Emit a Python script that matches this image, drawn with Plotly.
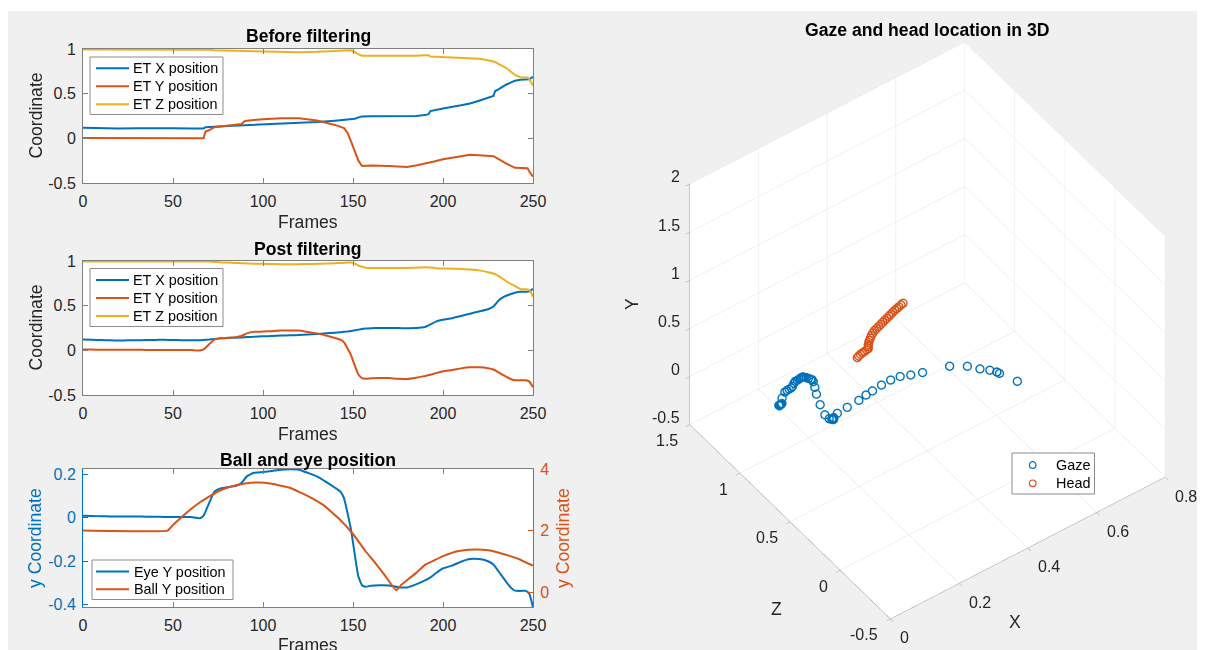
import plotly.graph_objects as go

# ---------------- data ----------------
frames_raw = [0, 10, 20, 30, 40, 50, 60, 67, 68, 70, 73, 80, 86, 88, 90, 92, 100, 110, 115, 120,
              130, 140, 145, 147, 149, 151, 153, 155, 160, 170, 180, 185, 190, 192, 193, 195,
              200, 210, 215, 220, 225, 228, 229, 231, 235, 240, 243, 247, 248, 250]
raw_x = [0.118, 0.113, 0.110, 0.112, 0.115, 0.113, 0.110, 0.110, 0.125, 0.130, 0.130, 0.138, 0.143,
         0.145, 0.148, 0.150, 0.158, 0.164, 0.167, 0.172, 0.182, 0.198, 0.208, 0.212, 0.215, 0.220,
         0.235, 0.245, 0.248, 0.248, 0.245, 0.250, 0.260, 0.270, 0.305, 0.315, 0.335, 0.370, 0.390,
         0.420, 0.455, 0.475, 0.530, 0.550, 0.600, 0.645, 0.655, 0.655, 0.660, 0.690]
raw_y = [0.005, 0.005, 0.004, 0.003, 0.003, 0.002, 0.002, 0.002, 0.075, 0.090, 0.125, 0.140, 0.150,
         0.160, 0.195, 0.200, 0.215, 0.225, 0.228, 0.225, 0.200, 0.150, 0.115, 0.060, -0.040, -0.150,
         -0.250, -0.310, -0.305, -0.310, -0.320, -0.305, -0.285, -0.275, -0.270, -0.260, -0.235,
         -0.205, -0.185, -0.190, -0.195, -0.200, -0.210, -0.235, -0.280, -0.330, -0.335, -0.335,
         -0.375, -0.430]
raw_z = [0.995, 0.995, 0.995, 0.995, 0.995, 0.995, 0.995, 0.995, 0.995, 0.993, 0.985, 0.982, 0.978,
         0.976, 0.974, 0.972, 0.968, 0.964, 0.963, 0.964, 0.968, 0.976, 0.980, 0.983, 0.985, 0.965,
         0.940, 0.925, 0.924, 0.922, 0.920, 0.925, 0.930, 0.930, 0.915, 0.913, 0.912, 0.905, 0.900,
         0.890, 0.875, 0.862, 0.855, 0.830, 0.790, 0.710, 0.685, 0.680, 0.660, 0.590]

frames_post = [0, 5, 10, 15, 20, 25, 30, 35, 40, 45, 50, 55, 60, 65, 67, 70, 73, 76, 80, 85, 88, 91,
               95, 100, 105, 110, 115, 120, 125, 130, 135, 140, 143, 145, 147, 149, 151, 153, 155,
               157, 160, 165, 170, 175, 180, 185, 190, 193, 196, 200, 205, 210, 215, 220, 225, 228,
               231, 234, 237, 240, 243, 246, 248, 250]
post_x = [0.120, 0.118, 0.115, 0.112, 0.111, 0.112, 0.113, 0.115, 0.117, 0.118, 0.116, 0.114, 0.113,
          0.113, 0.115, 0.120, 0.127, 0.132, 0.137, 0.142, 0.145, 0.148, 0.152, 0.157, 0.161, 0.165,
          0.168, 0.172, 0.177, 0.183, 0.190, 0.198, 0.203, 0.207, 0.212, 0.217, 0.224, 0.232, 0.240,
          0.245, 0.248, 0.250, 0.250, 0.249, 0.248, 0.250, 0.262, 0.290, 0.322, 0.342, 0.360, 0.385,
          0.410, 0.435, 0.460, 0.490, 0.560, 0.600, 0.625, 0.645, 0.655, 0.655, 0.660, 0.690]
post_y = [0.009, 0.008, 0.007, 0.006, 0.006, 0.006, 0.006, 0.005, 0.005, 0.004, 0.003, 0.003, 0.003,
          -0.002, 0.010, 0.066, 0.120, 0.134, 0.140, 0.147, 0.160, 0.190, 0.207, 0.210, 0.215, 0.221,
          0.223, 0.221, 0.206, 0.190, 0.165, 0.138, 0.120, 0.090, 0.020, -0.060, -0.170, -0.270,
          -0.310, -0.317, -0.312, -0.310, -0.311, -0.319, -0.320, -0.306, -0.288, -0.274, -0.255,
          -0.233, -0.220, -0.202, -0.190, -0.190, -0.200, -0.215, -0.248, -0.282, -0.315, -0.335,
          -0.336, -0.336, -0.350, -0.412]
post_z = [0.995, 0.995, 0.995, 0.995, 0.995, 0.995, 0.995, 0.995, 0.995, 0.995, 0.995, 0.995, 0.995,
          0.995, 0.995, 0.994, 0.990, 0.985, 0.982, 0.978, 0.975, 0.972, 0.970, 0.968, 0.966, 0.965,
          0.964, 0.965, 0.966, 0.968, 0.971, 0.975, 0.978, 0.980, 0.982, 0.983, 0.970, 0.950, 0.935,
          0.925, 0.922, 0.922, 0.922, 0.921, 0.922, 0.925, 0.929, 0.926, 0.920, 0.917, 0.914, 0.910,
          0.904, 0.895, 0.875, 0.860, 0.830, 0.790, 0.750, 0.720, 0.685, 0.683, 0.675, 0.600]

ball_frames = [0, 47, 50, 55, 60, 65, 70, 75, 80, 85, 90, 97, 105, 115, 125, 134, 142, 150, 157, 162,
               168, 174, 177, 181, 185, 190, 195, 200, 208, 214, 219, 225, 231, 237, 242, 250]
ball_y = [2.00, 2.00, 2.18, 2.45, 2.70, 2.92, 3.10, 3.27, 3.39, 3.47, 3.53, 3.56, 3.52, 3.39, 3.12,
          2.81, 2.40, 1.89, 1.33, 0.98, 0.52, 0.06, 0.25, 0.44, 0.62, 0.89, 1.03, 1.17, 1.33, 1.38,
          1.39, 1.36, 1.28, 1.18, 1.08, 0.86]

head_x = [0.341, 0.345, 0.350, 0.356, 0.362, 0.368, 0.373, 0.373, 0.373, 0.374, 0.376, 0.379, 0.382,
          0.386, 0.391, 0.397, 0.403, 0.409, 0.415, 0.421, 0.427, 0.433, 0.438, 0.444, 0.450, 0.456,
          0.462, 0.468, 0.474]
head_y = [0.074, 0.083, 0.091, 0.095, 0.099, 0.104, 0.108, 0.129, 0.150, 0.168, 0.186, 0.207, 0.228,
          0.246, 0.263, 0.273, 0.283, 0.294, 0.304, 0.314, 0.324, 0.334, 0.344, 0.354, 0.364, 0.372,
          0.379, 0.387, 0.394]
head_z = [1.0] * 29

frame_ticks = [0, 50, 100, 150, 200, 250]
coord_ticks = [-0.5, 0, 0.5, 1]
coord_labels = ["-0.5", "0", "0.5", "1"]
eye_ticks = [-0.4, -0.2, 0, 0.2]
eye_labels = ["-0.4", "-0.2", "0", "0.2"]
ball_ticks = [0, 2, 4]
x3d_ticks = [0, 0.2, 0.4, 0.6, 0.8]
x3d_labels = ['0', '0.2', '0.4', '0.6', '0.8']
z3d_ticks = [-0.5, 0, 0.5, 1, 1.5]
z3d_labels = ['-0.5', '0', '0.5', '1', '1.5']
y3d_ticks = [-0.5, 0, 0.5, 1, 1.5, 2]
y3d_labels = ['-0.5', '0', '0.5', '1', '1.5', '2']

# ---------------- styling ----------------
BLUE = '#0072BD'
ORANGE = '#D95319'
YELLOW = '#EDB120'
FONT = 'Liberation Sans, Arial, Helvetica, sans-serif'
TXT = '#262626'
AX = '#808080'
W, H = 1205, 650


def px(x):  # page pixel -> paper fraction
    return x / W


def py(y):
    return (H - y) / H


fig = go.Figure()

for arr, name, col in [(raw_x, 'ET X position', BLUE), (raw_y, 'ET Y position', ORANGE),
                       (raw_z, 'ET Z position', YELLOW)]:
    fig.add_trace(go.Scatter(x=frames_raw, y=arr, mode='lines', name=name, showlegend=False,
                             line=dict(color=col, width=2), xaxis='x', yaxis='y'))
for arr, name, col in [(post_x, 'ET X position', BLUE), (post_y, 'ET Y position', ORANGE),
                       (post_z, 'ET Z position', YELLOW)]:
    fig.add_trace(go.Scatter(x=frames_post, y=arr, mode='lines', name=name, showlegend=False,
                             line=dict(color=col, width=2, shape='spline', smoothing=0.4),
                             xaxis='x2', yaxis='y2'))
fig.add_trace(go.Scatter(x=frames_post, y=post_y, mode='lines', name='Eye Y position',
                         showlegend=False,
                         line=dict(color=BLUE, width=2, shape='spline', smoothing=0.4),
                         xaxis='x3', yaxis='y3'))
fig.add_trace(go.Scatter(x=ball_frames, y=ball_y, mode='lines', name='Ball Y position',
                         showlegend=False,
                         line=dict(color=ORANGE, width=2, shape='spline', smoothing=0.3),
                         xaxis='x3', yaxis='y4'))

fig.add_trace(go.Scatter3d(x=post_x, y=post_z, z=post_y, mode='markers', name='Gaze',
                           showlegend=False,
                           marker=dict(symbol='circle-open', size=5, color=BLUE,
                                       line=dict(width=1.2, color=BLUE)), scene='scene'))
fig.add_trace(go.Scatter3d(x=head_x, y=head_z, z=head_y, mode='markers', name='Head',
                           showlegend=False,
                           marker=dict(symbol='circle-open', size=5, color=ORANGE,
                                       line=dict(width=1.2, color=ORANGE)), scene='scene'))

tickfont = dict(family=FONT, size=16, color=TXT)
xdom = [px(83), px(533)]


def xax(anchor):
    return dict(domain=xdom, anchor=anchor, range=[0, 250], tickvals=frame_ticks,
                ticks='inside', ticklen=5, tickcolor=AX, showline=True, linecolor=AX,
                linewidth=1, mirror='ticks', showgrid=False, zeroline=False,
                tickfont=tickfont, ticklabelstandoff=4, fixedrange=True, automargin=False)


def yax(anchor, dom, rng, tv, tt, color=AX, fcolor=TXT, mirror='ticks', side='left', **kw):
    d = dict(domain=dom, anchor=anchor, range=rng, tickvals=tv, ticktext=tt,
             ticks='inside', ticklen=5, tickcolor=color, showline=True, linecolor=color,
             linewidth=1, mirror=mirror, showgrid=False, zeroline=False, side=side,
             tickfont=dict(family=FONT, size=16, color=fcolor), ticklabelstandoff=3,
             fixedrange=True, automargin=False)
    d.update(kw)
    return d


axis3d = dict(showbackground=True, backgroundcolor='white', gridcolor='#e3e3e3', gridwidth=1,
              showline=True, linecolor='#a0a0a0', linewidth=1, ticks='outside', ticklen=5,
              tickcolor='#a0a0a0', zeroline=False, showspikes=False, showticklabels=False,
              title=dict(text=''))

k = 2.0
asp = 1.065
layout = dict(
    width=W, height=H, autosize=False,
    margin=dict(l=0, r=0, t=0, b=0, pad=0, autoexpand=False),
    paper_bgcolor='#f0f0f0', plot_bgcolor='white', showlegend=False,
    font=dict(family=FONT, color=TXT),
    xaxis=xax('y'),
    yaxis=yax('x', [py(183), py(49)], [-0.5, 1], coord_ticks, coord_labels),
    xaxis2=xax('y2'),
    yaxis2=yax('x2', [py(395), py(261)], [-0.5, 1], coord_ticks, coord_labels),
    xaxis3=xax('y3'),
    yaxis3=yax('x3', [py(607), py(469)], [-0.41, 0.224], eye_ticks, eye_labels,
               color=BLUE, fcolor=BLUE, mirror=False),
    yaxis4=yax('x3', [py(607), py(469)], [-0.48, 4], ball_ticks, [str(v) for v in ball_ticks],
               color=ORANGE, fcolor=ORANGE, mirror=False, side='right', overlaying='y3'),
    scene=dict(
        domain=dict(x=[px(650), 1.0], y=[0.0, py(11)]),
        bgcolor='rgba(0,0,0,0)',
        aspectmode='manual', aspectratio=dict(x=asp, y=asp, z=asp),
        camera=dict(eye=dict(x=-0.417 * k, y=-0.571 * k, z=0.707 * k),
                    up=dict(x=0, y=0, z=1), center=dict(x=0, y=0, z=0),
                    projection=dict(type='orthographic')),
        xaxis=dict(range=[0, 0.8], tickvals=x3d_ticks, **axis3d),
        yaxis=dict(range=[-0.5, 1.5], tickvals=z3d_ticks, **axis3d),
        zaxis=dict(range=[-0.5, 2], tickvals=y3d_ticks, **axis3d),
    ),
)
fig.update_layout(**layout)

# 3D tick labels / axis titles placed at their 3D positions (MATLAB style, horizontal text)
f3 = dict(family=FONT, size=16, color=TXT)
sann = []
for v, t in zip(x3d_ticks, x3d_labels):
    sann.append(dict(x=v, y=-0.5, z=-0.5, text=t, showarrow=False, xanchor='left',
                     yanchor='middle', xshift=8, yshift=-19, font=f3))
for v, t in zip(z3d_ticks, z3d_labels):
    sann.append(dict(x=0, y=v, z=-0.5, text=t, showarrow=False, xanchor='right',
                     yanchor='middle', xshift=-10, yshift=-16, font=f3))
for v, t in zip(y3d_ticks, y3d_labels):
    sann.append(dict(x=0, y=1.5, z=v, text=t, showarrow=False, xanchor='right',
                     yanchor='middle', xshift=-8, yshift=7, font=f3))
f3t = dict(family=FONT, size=17.6, color=TXT)
sann.append(dict(x=0.4, y=-0.5, z=-0.5, text='X', showarrow=False, xanchor='center',
                 yanchor='middle', xshift=-13, yshift=-74, font=f3t))
sann.append(dict(x=0, y=0.25, z=-0.5, text='Z', showarrow=False, xanchor='center',
                 yanchor='middle', xshift=-39, yshift=-63, font=f3t))
sann.append(dict(x=0, y=1.5, z=0.75, text='Y', showarrow=False, xanchor='center',
                 yanchor='middle', xshift=-57, yshift=0, textangle=-90, font=f3t))
fig.update_layout(scene_annotations=sann)

ann = []
shapes = []


def add_text(text, x, y, size=17.6, bold=False, color=TXT, angle=0, anchor='center'):
    ann.append(dict(text=('<b>%s</b>' % text) if bold else text, x=px(x), y=py(y),
                    xref='paper', yref='paper', xanchor=anchor, yanchor='middle',
                    showarrow=False, textangle=angle,
                    font=dict(family=FONT, size=size, color='black' if bold else color)))


def legend_box(x0, y0, x1, y1, entries, text_x, kind='line'):
    shapes.append(dict(type='rect', xref='paper', yref='paper', x0=px(x0), x1=px(x1),
                       y0=py(y1), y1=py(y0), fillcolor='white',
                       line=dict(color='#8c8c8c', width=1), layer='above'))
    for label, color, yc in entries:
        if kind == 'line':
            shapes.append(dict(type='line', xref='paper', yref='paper', x0=px(96), x1=px(129),
                               y0=py(yc), y1=py(yc), line=dict(color=color, width=2),
                               layer='above'))
        else:
            cx = 1032.7
            shapes.append(dict(type='circle', xref='paper', yref='paper', x0=px(cx - 3.3),
                               x1=px(cx + 3.3), y0=py(yc + 3.3), y1=py(yc - 3.3),
                               line=dict(color=color, width=1.2), layer='above'))
        add_text(label, text_x, yc, size=14.4, color='black', anchor='left')


legend_box(90, 57, 223, 114.5, [('ET X position', BLUE, 68.3), ('ET Y position', ORANGE, 86.2),
                                ('ET Z position', YELLOW, 104.2)], 131)
legend_box(90, 268.5, 223, 326.5, [('ET X position', BLUE, 280), ('ET Y position', ORANGE, 298),
                                   ('ET Z position', YELLOW, 316)], 131)
legend_box(92, 560, 233, 599.5, [('Eye Y position', BLUE, 571.5),
                                 ('Ball Y position', ORANGE, 589.3)], 131.5)
legend_box(1012, 453, 1094.5, 494, [('Gaze', BLUE, 465), ('Head', ORANGE, 483.3)], 1054,
           kind='circle')

add_text('Before filtering', 308, 36.5, bold=True)
add_text('Post filtering', 308, 248.5, bold=True)
add_text('Ball and eye position', 308, 459.5, bold=True)
add_text('Gaze and head location in 3D', 927, 30, bold=True)
add_text('Frames', 308, 221.5)
add_text('Frames', 308, 433.5)
add_text('Frames', 308, 645)
add_text('Coordinate', 35.5, 116, angle=-90)
add_text('Coordinate', 35.5, 328, angle=-90)
add_text('y Coordinate', 35, 538, color=BLUE, angle=-90)
add_text('y Coordinate', 563, 538, color=ORANGE, angle=-90)

# thin white frame around the grey figure area
for x0, x1, y0, y1 in [(0, 8, 0, 650), (1197, 1205, 0, 650), (0, 1205, 0, 11)]:
    shapes.append(dict(type='rect', xref='paper', yref='paper', x0=px(x0), x1=px(x1),
                       y0=py(y1), y1=py(y0), fillcolor='white', line=dict(width=0),
                       layer='above'))

fig.update_layout(annotations=ann, shapes=shapes)

fig.write_html("out.html", config={'displayModeBar': False},
               post_script="document.body.style.margin='0px';"
                           "document.documentElement.style.overflow='hidden';")
